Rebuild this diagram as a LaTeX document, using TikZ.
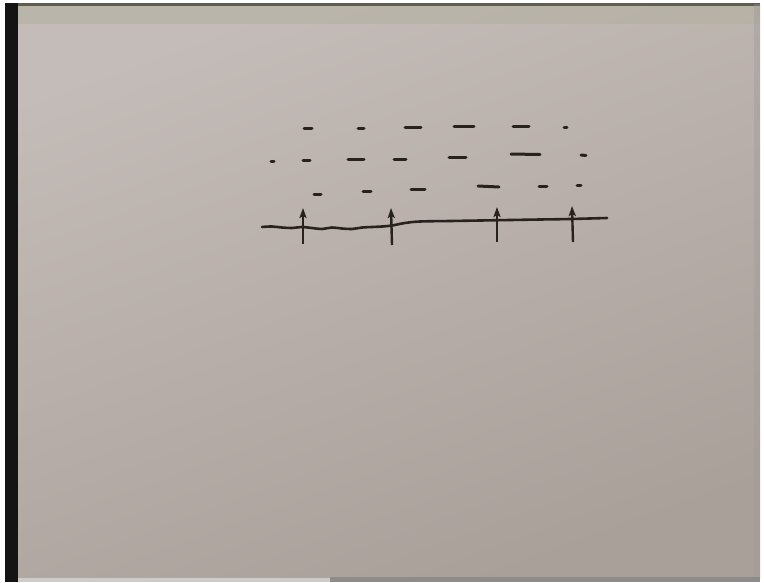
\documentclass[tikz,border=0pt]{standalone}
\usetikzlibrary{arrows.meta}
\definecolor{paperA}{RGB}{196,188,184}
\definecolor{paperD}{RGB}{170,160,154}
\definecolor{ink}{RGB}{40,34,30}
\definecolor{edgeband}{RGB}{176,174,156}
\definecolor{edgedark}{RGB}{96,94,78}
\tikzset{
  dashmark/.style={ink, line width=3pt, line cap=round},
  chalkline/.style={ink, line width=2.6pt, line cap=round, line join=round},
  uparrow/.style={ink, line width=2.4pt, -{Stealth[length=10pt,width=7pt,inset=2pt]}}
}
\begin{document}
\begin{tikzpicture}[x=1pt,y=-1pt]
\useasboundingbox (0,0) rectangle (764,582);
% background white margins
\fill[white] (0,0) rectangle (764,582);
% paper with shading
\shade[top color=paperA, bottom color=paperD, shading angle=20]
  (18,4) rectangle (760,578);
% top band
\fill[edgedark] (18,3) rectangle (760,5.5);
\fill[edgeband, opacity=0.45] (18,5.5) rectangle (760,24);
% left black band
\fill[black!92] (5,3) rectangle (18,582);
% right edge
\fill[black!40, opacity=0.35] (754,4) rectangle (760,578);
% bottom strip
\fill[black!45] (330,577) rectangle (760,582);
\fill[black!20] (18,578) rectangle (330,582);

% row 1 dashes
\draw[dashmark] (304,128) -- (312,128);
\draw[dashmark] (358,128) -- (364,128);
\draw[dashmark] (405,127.5) -- (421,127.5);
\draw[dashmark] (454,126) -- (474,126);
\draw[dashmark] (513,126) -- (529,126);
\draw[dashmark] (564,127) -- (567,127);
% row 2 dashes
\draw[dashmark] (271,161) -- (274,161);
\draw[dashmark] (303,160) -- (310,160);
\draw[dashmark] (348,159) -- (364,159);
\draw[dashmark] (394,159) -- (406,159);
\draw[dashmark] (449,157) -- (466,157);
\draw[dashmark] (511,154) -- (540,154.5);
\draw[dashmark] (581,155) -- (586,155.5);
% row 3 dashes
\draw[dashmark] (314,194) -- (321,194);
\draw[dashmark] (363,191) -- (371,191);
\draw[dashmark] (411,189) -- (425,189);
\draw[dashmark] (478,186) -- (499,187);
\draw[dashmark] (539,186) -- (547,186);
\draw[dashmark] (577,185) -- (581,185);

% base line
\draw[chalkline] plot[smooth, tension=0.6] coordinates {
  (262,227) (272,226.5) (282,227.5) (292,228) (302,227) (312,228) (322,229)
  (332,227.5) (342,228.5) (352,229) (362,227.5) (372,227) (382,226.5) (392,225.5)
  (405,223) (420,221.5) (450,221) (480,220.5) (510,220) (540,219.5) (570,219) (607,218)};

% arrows
\coordinate (a1b) at (303,244); \coordinate (a1t) at (303,208);
\coordinate (a2b) at (392,245); \coordinate (a2t) at (391,208);
\coordinate (a3b) at (497,242); \coordinate (a3t) at (497,207);
\coordinate (a4b) at (573,242); \coordinate (a4t) at (572,206);
\draw[uparrow] (a1b) -- (a1t);
\draw[uparrow] (a2b) -- (a2t);
\draw[uparrow] (a3b) -- (a3t);
\draw[uparrow] (a4b) -- (a4t);
\end{tikzpicture}
\end{document}
